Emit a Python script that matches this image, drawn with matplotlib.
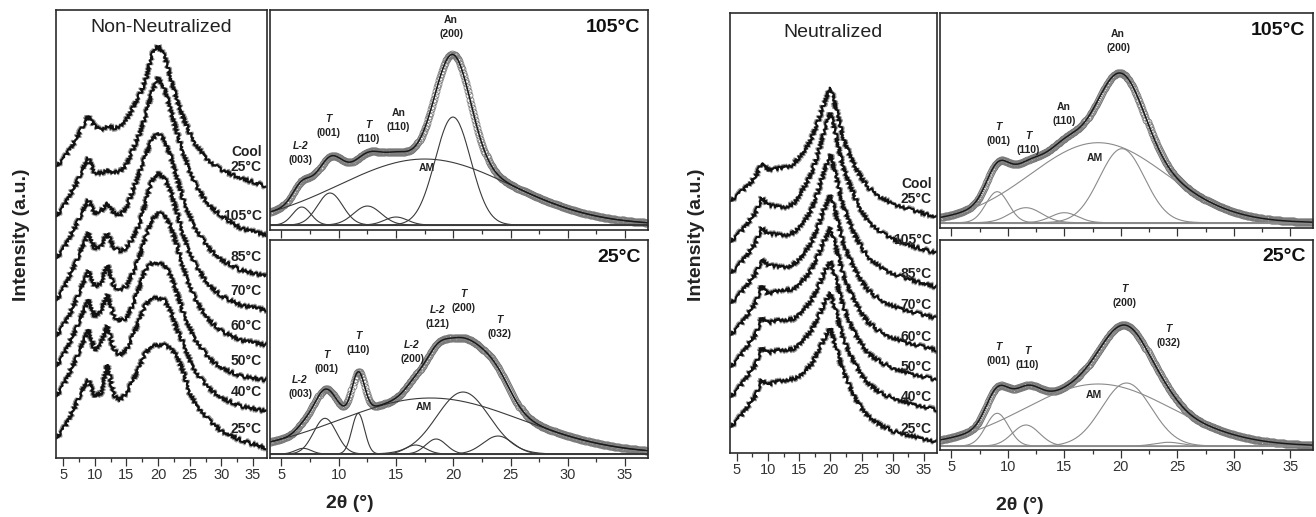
import numpy as np
import matplotlib
matplotlib.use("Agg")
import matplotlib.pyplot as plt
from matplotlib.ticker import MultipleLocator

plt.rcParams["font.family"] = ["Liberation Sans", "DejaVu Sans"]

# ------------------------------------------------------------------
# Stacked in-situ XRD patterns (intensity, a.u.)
# ------------------------------------------------------------------
TWO_THETA = [4, 5, 6, 7, 8, 9, 10, 11, 12, 13, 14, 15, 16, 17, 18, 19, 20,
             21, 22, 23, 24, 25, 26, 28, 30, 33, 37]

TEMP_LABELS = ["Cool\n25°C", "105°C", "85°C", "70°C", "60°C", "50°C", "40°C", "25°C"]

# Non-neutralized, top (cool 25 °C) to bottom (25 °C)
NN_COOL25 = [292, 298, 308, 318, 330, 342, 332, 328, 332, 330, 332, 338, 350, 362,
             377, 403, 412, 402, 380, 358, 340, 325, 313, 297, 288, 280, 272]
NN_105 = [242, 250, 262, 273, 287, 300, 285, 285, 288, 285, 287, 293, 308, 323,
          342, 365, 380, 370, 348, 325, 305, 287, 272, 253, 242, 230, 223]
NN_85 = [200, 208, 220, 232, 245, 258, 245, 247, 255, 245, 243, 250, 267, 285,
         302, 318, 325, 318, 302, 280, 258, 242, 228, 210, 198, 188, 182]
NN_70 = [158, 168, 182, 195, 210, 225, 210, 212, 225, 210, 207, 210, 220, 233,
         255, 277, 285, 280, 267, 245, 223, 205, 192, 173, 162, 153, 148]
NN_60 = [122, 132, 143, 157, 172, 187, 172, 175, 193, 172, 168, 172, 185, 200,
         220, 238, 245, 243, 232, 212, 190, 172, 157, 138, 127, 118, 113]
NN_50 = [92, 102, 115, 128, 143, 158, 142, 147, 163, 142, 137, 140, 153, 170,
         188, 195, 195, 193, 183, 165, 145, 130, 117, 100, 90, 82, 78]
NN_40 = [62, 72, 85, 98, 113, 128, 108, 115, 132, 108, 103, 108, 122, 137,
         153, 160, 160, 158, 147, 128, 115, 98, 85, 70, 60, 52, 47]
NN_25 = [20, 28, 40, 53, 67, 78, 62, 65, 93, 63, 58, 65, 77, 90,
         105, 112, 113, 113, 110, 102, 86, 65, 53, 38, 27, 18, 10]

# Neutralized
NE_COOL25 = [252, 257, 263, 269, 276, 290, 283, 284, 285, 286, 288, 296, 303, 315,
             331, 350, 365, 342, 316, 300, 286, 275, 266, 256, 249, 243, 236]
NE_105 = [211, 217, 224, 232, 240, 255, 248, 247, 246, 246, 249, 257, 268, 280,
          299, 322, 340, 315, 287, 270, 255, 242, 232, 221, 214, 207, 200]
NE_85 = [180, 185, 193, 201, 210, 225, 219, 219, 218, 218, 220, 226, 233, 244,
         261, 282, 298, 274, 248, 232, 217, 206, 196, 186, 179, 173, 166]
NE_70 = [150, 155, 163, 171, 179, 193, 188, 187, 186, 186, 188, 194, 201, 211,
         226, 244, 258, 236, 211, 196, 183, 172, 163, 153, 147, 141, 135]
NE_60 = [118, 124, 132, 141, 150, 167, 159, 161, 163, 163, 164, 169, 175, 184,
         197, 212, 225, 203, 179, 164, 151, 140, 131, 121, 115, 109, 103]
NE_50 = [86, 92, 101, 110, 118, 135, 130, 132, 133, 133, 134, 139, 145, 153,
         165, 180, 192, 171, 147, 132, 119, 109, 100, 91, 85, 79, 73]
NE_40 = [56, 62, 71, 80, 88, 105, 100, 102, 103, 103, 104, 109, 115, 123,
         135, 149, 160, 139, 115, 101, 89, 78, 70, 60, 55, 49, 43]
NE_25 = [26, 32, 40, 49, 57, 73, 68, 71, 72, 73, 74, 77, 82, 89,
         101, 114, 125, 104, 82, 68, 55, 45, 37, 28, 22, 17, 11]

NN_TRACES = [NN_COOL25, NN_105, NN_85, NN_70, NN_60, NN_50, NN_40, NN_25]
NE_TRACES = [NE_COOL25, NE_105, NE_85, NE_70, NE_60, NE_50, NE_40, NE_25]

# ------------------------------------------------------------------
# Peak deconvolution (Gaussian components: centre 2θ, height a.u., sigma °)
# ------------------------------------------------------------------
NN105_CENTER = [6.77, 9.24, 12.5, 15.0, 19.97, 17.5]
NN105_HEIGHT = [18, 32, 19, 8, 108, 66]
NN105_SIGMA = [0.8, 1.1, 1.2, 1.0, 1.55, 7.5]

NN25_CENTER = [6.9, 8.8, 11.7, 16.7, 18.5, 20.85, 23.9, 18.0]
NN25_HEIGHT = [5.7, 35.7, 40.7, 9, 15, 62, 18, 56]
NN25_SIGMA = [0.7, 1.0, 0.55, 0.9, 0.9, 2.3, 1.3, 8.0]

NE105_CENTER = [9.06, 11.6, 15.0, 20.1, 18.0]
NE105_HEIGHT = [31, 15, 10, 74, 80]
NE105_SIGMA = [1.0, 1.4, 1.2, 2.0, 6.0]

NE25_CENTER = [9.06, 11.6, 20.5, 24.2, 18.0]
NE25_HEIGHT = [32.7, 21, 63, 3.7, 62]
NE25_SIGMA = [1.0, 1.2, 2.2, 1.2, 6.5]

TICKS = [5, 10, 15, 20, 25, 30, 35]


def gauss(x, c, h, s):
    return h * np.exp(-0.5 * ((x - c) / s) ** 2)


def style_axis(ax, xlim, labels=True):
    ax.set_xlim(*xlim)
    ax.set_xticks(TICKS)
    ax.xaxis.set_minor_locator(MultipleLocator(2.5))
    ax.set_yticks([])
    ax.tick_params(axis="x", which="major", direction="out", length=5.5, width=0.9,
                   labelsize=10.5, pad=2, colors="#333333", labelbottom=labels)
    ax.tick_params(axis="x", which="minor", direction="out", length=3, width=0.9,
                   colors="#333333")
    for sp in ax.spines.values():
        sp.set_linewidth(1.2)
        sp.set_color("#2b2b2b")


def plot_stack(ax, traces, title, title_y, label_x, label_pad, extra_pad, ylim):
    for tr, lab in zip(traces, TEMP_LABELS):
        # grey fuzz underneath + dark core, both jittered like a noisy scan
        fuzz, = ax.plot(TWO_THETA, tr, color="#999999", lw=1.6)
        fuzz.set_sketch_params(3.0, 1.0, 2.0)
        line, = ax.plot(TWO_THETA, tr, color="#111111", lw=1.5)
        line.set_sketch_params(1.6, 1.0, 2.0)
        pad = label_pad + (extra_pad if "\n" in lab else 0)
        ax.text(label_x, tr[-1] + pad, lab, ha="right", va="bottom",
                multialignment="right", fontsize=10, fontweight="bold",
                color="#222222", linespacing=1.05)
    ax.set_ylim(*ylim)
    ax.text(0.5, title_y, title, transform=ax.transAxes, ha="center", va="center",
            fontsize=14, color="#222222")


def plot_fit(ax, centers, heights, sigmas, comp_color, ylim, temp):
    x = np.arange(4.0, 37.01, 0.09)
    comps = [gauss(x, c, h, s) for c, h, s in zip(centers, heights, sigmas)]
    total = np.sum(comps, axis=0)
    ax.plot(x, total, "o", mfc="none", mec="#7a7a7a", ms=5.0, mew=0.6)
    ax.axhline(0, color=comp_color, lw=0.8)
    for comp in comps:
        ax.plot(x, comp, color=comp_color, lw=0.8)
    ax.plot(x, total, color="#1a1a1a", lw=1.1)
    ax.set_ylim(*ylim)
    ax.text(0.98, 0.92, temp, transform=ax.transAxes, ha="right", va="center",
            fontsize=14, fontweight="bold", color="#111111")


def peak_tags(ax, tags):
    for top, hkl, x, y in tags:
        italic = top in ("T", "L-2")
        if hkl:
            ax.annotate(top, (x, y), xytext=(0, 5), textcoords="offset points",
                        ha="center", va="center", fontsize=7.5, fontweight="bold",
                        fontstyle="italic" if italic else "normal", color="#222222")
            ax.annotate(hkl, (x, y), xytext=(0, -5), textcoords="offset points",
                        ha="center", va="center", fontsize=7.5, fontweight="bold",
                        color="#222222")
        else:
            ax.text(x, y, top, ha="center", va="center", fontsize=7.5,
                    fontweight="bold", color="#222222")


fig = plt.figure(figsize=(13.16, 5.17), dpi=100)

# ---------------- Non-neutralized ----------------
ax_nn = fig.add_axes([0.0426, 0.1141, 0.1603, 0.8665])
plot_stack(ax_nn, NN_TRACES, "Non-Neutralized", 0.96, 36.4, 12, 0, (0, 448))
style_axis(ax_nn, (3.9, 37.2))

ax_nn105 = fig.add_axes([0.2052, 0.5551, 0.2872, 0.4255])
plot_fit(ax_nn105, NN105_CENTER, NN105_HEIGHT, NN105_SIGMA, "#3a3a3a", (-5, 215), "105°C")
peak_tags(ax_nn105, [("L-2", "(003)", 6.68, 72), ("T", "(001)", 9.1, 99),
                     ("T", "(110)", 12.6, 93), ("An", "(110)", 15.2, 105),
                     ("An", "(200)", 19.8, 198), ("AM", None, 17.7, 57)])
style_axis(ax_nn105, (4, 37), labels=False)

ax_nn25 = fig.add_axes([0.2052, 0.1141, 0.2872, 0.4217])
plot_fit(ax_nn25, NN25_CENTER, NN25_HEIGHT, NN25_SIGMA, "#3a3a3a", (-4, 214), "25°C")
peak_tags(ax_nn25, [("L-2", "(003)", 6.62, 67), ("T", "(001)", 8.95, 92),
                    ("T", "(110)", 11.7, 111), ("L-2", "(200)", 16.4, 102),
                    ("L-2", "(121)", 18.6, 137), ("T", "(200)", 20.9, 153),
                    ("T", "(032)", 24.0, 127), ("AM", None, 17.4, 47)])
style_axis(ax_nn25, (4, 37))

fig.text(0.0167, 0.545, "Intensity (a.u.)", rotation=90, ha="center", va="center",
         fontsize=14, fontweight="bold", color="#222222")
fig.text(0.266, 0.027, "2θ (°)", ha="center", va="center", fontsize=14,
         fontweight="bold", color="#222222")

# ---------------- Neutralized ----------------
ax_ne = fig.add_axes([0.5547, 0.1238, 0.1573, 0.8511])
plot_stack(ax_ne, NE_TRACES, "Neutralized", 0.955, 36.25, 6, 5, (0, 440))
style_axis(ax_ne, (3.9, 37.1))

ax_ne105 = fig.add_axes([0.7143, 0.5590, 0.2834, 0.4159])
plot_fit(ax_ne105, NE105_CENTER, NE105_HEIGHT, NE105_SIGMA, "#8a8a8a", (-5.3, 209.7), "105°C")
peak_tags(ax_ne105, [("T", "(001)", 9.15, 89), ("T", "(110)", 11.8, 80),
                     ("An", "(110)", 14.95, 109), ("An", "(200)", 19.75, 182),
                     ("AM", None, 17.7, 65)])
style_axis(ax_ne105, (4, 37), labels=False)

ax_ne25 = fig.add_axes([0.7143, 0.1296, 0.2834, 0.4062])
plot_fit(ax_ne25, NE25_CENTER, NE25_HEIGHT, NE25_SIGMA, "#8a8a8a", (-4, 206), "25°C")
peak_tags(ax_ne25, [("T", "(001)", 9.15, 92), ("T", "(110)", 11.7, 88),
                    ("T", "(200)", 20.3, 150), ("T", "(032)", 24.2, 110),
                    ("AM", None, 17.6, 51)])
style_axis(ax_ne25, (4, 37))

fig.text(0.5296, 0.5455, "Intensity (a.u.)", rotation=90, ha="center", va="center",
         fontsize=14, fontweight="bold", color="#222222")
fig.text(0.775, 0.023, "2θ (°)", ha="center", va="center", fontsize=14,
         fontweight="bold", color="#222222")

fig.savefig("out.png", dpi=100)
